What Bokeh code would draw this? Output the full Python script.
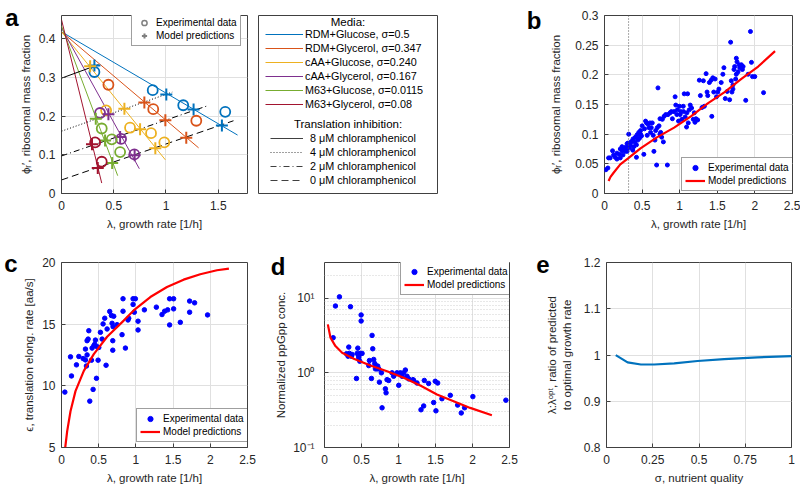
from bokeh.plotting import figure
from bokeh.models import (FixedTicker, CustomJSTickFormatter, Legend, LegendItem, Label, Span,
                          LinearAxis)
from bokeh.layouts import row, column
from bokeh.embed import file_html
from bokeh.resources import INLINE

NAN = float("nan")

# ---------------- Panel a data ----------------
media_labels = ["RDM+Glucose, σ=0.5", "RDM+Glycerol, σ=0.347", "cAA+Glucose, σ=0.240",
                "cAA+Glycerol, σ=0.167", "M63+Glucose, σ=0.0115", "M63+Glycerol, σ=0.08"]
media_line_x = [[0, 1.685], [0, 1.312], [0, 0.994], [0, 0.745], [0, 0.538], [0, 0.385]]
media_line_y = [[0.418, 0.151], [0.418, 0.118], [0.418, 0.087], [0.428, 0.064], [0.433, 0.046], [0.449, 0.027]]
exp_x = [[0.315, 0.873, 1.165, 1.567], [0.449, 0.878, 1.29], [0.427, 0.656, 0.857, 0.984],
         [0.369, 0.570, 0.697], [0.385, 0.481, 0.561], [0.322, 0.385]]
exp_y = [[0.314, 0.267, 0.228, 0.211], [0.281, 0.218, 0.188], [0.215, 0.170, 0.156, 0.132],
         [0.208, 0.141, 0.101], [0.168, 0.140, 0.107], [0.132, 0.082]]
mod_x = [[0.315, 1.003, 1.264, 1.535], [0.793, 0.994, 1.194], [0.274, 0.602, 0.752, 0.898],
         [0.449, 0.561, 0.700], [0.328, 0.417, 0.485], [0.292, 0.347]]
mod_y = [[0.331, 0.256, 0.217, 0.176], [0.235, 0.189, 0.144], [0.329, 0.219, 0.166, 0.117],
         [0.205, 0.146, 0.099], [0.193, 0.137, 0.079], [0.127, 0.066]]
inhib_labels = ["8 μM chloramphenicol", "4 μM chloramphenicol", "2 μM chloramphenicol", "0 μM chloramphenicol"]
inhib_line_x = [[0, 0.354], [0, 1.06], [0, 1.39], [0, 1.646]]
inhib_line_y = [[0.298, 0.333], [0.161, 0.262], [0.097, 0.226], [0.035, 0.188]]

# ---------------- Panel b data ----------------
b_x = [0.018, 0.045, 0.076, 0.107, 0.143, 0.165, 0.197, 0.210, 0.233, 0.246, 0.268, 0.282, 0.300, 0.313,
       0.322, 0.331, 0.344, 0.367, 0.380, 0.389, 0.403, 0.411, 0.425, 0.434, 0.443, 0.456, 0.465, 0.479,
       0.492, 0.425, 0.376, 0.210, 0.121, 0.054, 0.165, 0.277, 0.353, 0.300, 0.233,
       0.523, 0.559, 0.577, 0.590, 0.604, 0.613, 0.622, 0.635, 0.648, 0.657, 0.671, 0.680, 0.693, 0.711,
       0.725, 0.738, 0.747, 0.760, 0.769, 0.783, 0.792, 0.814, 0.836, 0.845, 0.872, 0.890, 0.903, 0.926,
       0.939, 0.948, 0.962, 0.970, 0.984, 0.997, 0.501, 0.532, 0.479, 0.568, 0.702, 0.738, 0.546,
       1.006, 1.015, 1.029, 1.047, 1.060, 1.073, 1.091, 1.105, 1.114, 1.127, 1.140, 1.158, 1.181, 1.203,
       1.216, 1.239, 1.261, 1.275, 1.297, 1.315, 1.328, 1.351, 1.364, 1.373, 1.395, 1.418, 1.427, 1.440,
       1.453, 1.471, 1.489, 1.507, 1.521, 1.552, 1.574, 1.588, 1.051, 1.096, 1.194,
       1.606, 1.632, 1.664, 1.677, 1.686, 1.708, 1.722, 1.731, 1.744, 1.753, 1.762, 1.776, 1.789, 1.798,
       1.811, 1.820, 1.834, 1.843, 1.878, 1.910, 1.941, 1.954, 1.968, 1.999, 2.115, 1.708, 1.753, 1.695]
b_y = [0.040, 0.043, 0.060, 0.072, 0.061, 0.058, 0.066, 0.060, 0.072, 0.065, 0.075, 0.078, 0.071, 0.085,
       0.100, 0.077, 0.081, 0.088, 0.092, 0.079, 0.087, 0.095, 0.082, 0.099, 0.090, 0.103, 0.093, 0.100,
       0.097, 0.061, 0.073, 0.075, 0.065, 0.060, 0.068, 0.071, 0.087, 0.084, 0.079,
       0.066, 0.119, 0.117, 0.111, 0.119, 0.103, 0.111, 0.119, 0.098, 0.071, 0.090, 0.106, 0.048, 0.178,
       0.114, 0.126, 0.103, 0.095, 0.125, 0.087, 0.130, 0.133, 0.048, 0.133, 0.136, 0.138, 0.126, 0.138,
       0.163, 0.149, 0.133, 0.141, 0.122, 0.147, 0.114, 0.109, 0.106, 0.098, 0.111, 0.100, 0.122,
       0.133, 0.138, 0.125, 0.147, 0.168, 0.129, 0.112, 0.168, 0.119, 0.141, 0.149, 0.144, 0.125, 0.120,
       0.126, 0.124, 0.191, 0.165, 0.145, 0.190, 0.147, 0.202, 0.171, 0.165, 0.187, 0.191, 0.130, 0.195,
       0.171, 0.193, 0.163, 0.171, 0.176, 0.187, 0.201, 0.212, 0.138, 0.136, 0.136,
       0.160, 0.172, 0.158, 0.255, 0.190, 0.176, 0.209, 0.214, 0.193, 0.228, 0.222, 0.205, 0.217, 0.212,
       0.214, 0.217, 0.209, 0.214, 0.157, 0.201, 0.273, 0.221, 0.197, 0.197, 0.170, 0.183, 0.201, 0.171]
b_model_x = [0.054, 0.08, 0.121, 0.21, 0.322, 0.479, 0.702, 0.926, 1.149, 1.373, 1.597, 1.82, 2.044, 2.268]
b_model_y = [0.021, 0.028, 0.035, 0.049, 0.060, 0.076, 0.095, 0.111, 0.130, 0.152, 0.171, 0.193, 0.214, 0.240]
b_threshold = 0.32

# ---------------- Panel c data ----------------
c_x = [0.045, 0.121, 0.134, 0.201, 0.233, 0.291, 0.322, 0.322, 0.335, 0.344, 0.344, 0.358, 0.367, 0.380,
       0.403, 0.411, 0.425, 0.434, 0.447, 0.456, 0.470, 0.479, 0.492, 0.501, 0.523, 0.546, 0.559, 0.581,
       0.599, 0.613, 0.648, 0.671, 0.680, 0.689, 0.689, 0.693, 0.702, 0.747, 0.814, 0.827, 0.827, 0.859,
       0.894, 0.903, 0.962, 0.962, 0.979, 0.993, 1.029, 1.029, 1.114, 1.275, 1.351, 1.386, 1.427, 1.453,
       1.453, 1.507, 1.507, 1.597, 1.722, 1.722, 1.789, 1.963]
c_y = [9.49, 12.35, 10.80, 11.70, 12.38, 12.21, 12.98, 12.10, 11.61, 12.51, 13.66, 13.79, 14.47, 8.76,
       12.08, 13.06, 9.71, 13.25, 13.38, 13.71, 10.61, 13.17, 12.08, 13.11, 14.34, 13.79, 15.02, 15.48,
       11.67, 14.61, 16.03, 15.70, 15.07, 13.66, 12.89, 14.80, 15.64, 14.96, 14.15, 17.06, 16.05, 13.06,
       15.34, 15.48, 17.06, 16.60, 15.97, 17.06, 14.53, 15.24, 16.16, 16.38, 15.78, 16.05, 16.16, 17.06,
       14.94, 17.06, 16.24, 15.15, 16.87, 15.97, 16.73, 15.75]
c_model_x = [0.05, 0.076, 0.121, 0.188, 0.300, 0.434, 0.613, 0.836, 0.970, 1.194, 1.418, 1.641, 1.865, 2.089, 2.25]
c_model_y = [5.0, 6.31, 7.94, 9.57, 11.21, 12.57, 13.98, 15.29, 16.11, 17.20, 18.01, 18.61, 19.05, 19.37, 19.51]

# ---------------- Panel d data ----------------
d_x = [0.117, 0.148, 0.202, 0.297, 0.319, 0.328, 0.337, 0.351, 0.364, 0.373, 0.432, 0.441, 0.450, 0.463,
       0.463, 0.477, 0.486, 0.495, 0.495, 0.508, 0.598, 0.607, 0.634, 0.643, 0.652, 0.665, 0.679, 0.688,
       0.701, 0.710, 0.719, 0.733, 0.742, 0.769, 0.778, 0.823, 0.832, 0.845, 0.868, 0.913, 0.935, 0.980,
       1.003, 1.025, 1.048, 1.070, 1.093, 1.115, 1.138, 1.196, 1.205, 1.250, 1.304, 1.340, 1.349, 1.407,
       1.475, 1.497, 1.506, 1.529, 1.587, 1.700, 1.799, 1.848, 1.893, 2.005, 2.451]
d_y = [2.95, 7.85, 10.4, 1.80, 1.67, 2.21, 1.82, 7.68, 1.67, 1.76, 0.84, 1.82, 2.14, 1.67,
       1.59, 1.43, 1.82, 5.95, 4.94, 1.82, 1.25, 1.46, 0.84, 3.17, 2.10, 1.51, 1.33, 1.13,
       1.23, 1.13, 1.23, 1.13, 0.75, 1.00, 0.34, 0.61, 0.54, 0.81, 0.79, 1.00, 0.90, 1.00,
       0.68, 1.00, 0.90, 1.00, 1.09, 0.90, 0.83, 0.81, 0.79, 0.73, 0.32, 0.36, 0.79, 0.72,
       0.40, 0.77, 0.31, 0.73, 0.45, 0.50, 0.37, 0.29, 0.34, 0.48, 0.43]
d_model_x = [0.045, 0.081, 0.148, 0.238, 0.396, 0.620, 0.845, 1.070, 1.295, 1.520, 1.745, 1.969, 2.262]
d_model_y = [4.45, 2.95, 2.28, 1.86, 1.54, 1.25, 1.05, 0.857, 0.676, 0.512, 0.417, 0.339, 0.27]

# ---------------- Panel e data ----------------
e_x = [0.05, 0.114, 0.186, 0.258, 0.366, 0.492, 0.636, 0.816, 1.0]
e_y = [0.9996, 0.984, 0.9795, 0.9795, 0.982, 0.987, 0.991, 0.995, 0.9975]

# ---------------- styles ----------------
FONT = "Liberation Sans"
TXT = "#262626"
AX = "#404040"
GRID = "#e0e0e0"
MCOL = ["#0072BD", "#D95319", "#EDB120", "#7E2F8E", "#77AC30", "#A2142F"]
DASHES = ["solid", "1 2", "6 3 1 3", "7 4"]
FMT = "return String(Math.round(tick*10000)/10000);"


def make_fig(w, h, xr, yr, left, right, top, bottom, **kw):
    return figure(width=w, height=h, x_range=xr, y_range=yr, output_backend="svg",
                  toolbar_location=None, min_border_left=left, min_border_right=right,
                  min_border_top=top, min_border_bottom=bottom, **kw)


def style(p, xticks, yticks, xlabel, ylabel, yfmt=None, yminor=None, ylab_standoff=4):
    p.outline_line_color = AX
    p.outline_line_width = 1
    p.background_fill_color = "white"
    p.border_fill_color = "white"
    for ax, ticks, minor in ((p.xaxis[0], xticks, []), (p.yaxis[0], yticks, yminor or [])):
        ax.ticker = FixedTicker(ticks=ticks, minor_ticks=minor)
        ax.formatter = CustomJSTickFormatter(code=FMT)
        ax.axis_line_color = None
        ax.major_tick_in = 4
        ax.major_tick_out = 0
        ax.major_tick_line_color = AX
        ax.minor_tick_line_color = None
        ax.major_label_text_font = FONT
        ax.major_label_text_font_size = "12px"
        ax.major_label_text_color = TXT
        ax.axis_label_text_font = FONT
        ax.axis_label_text_font_size = "11.5px"
        ax.axis_label_text_font_style = "normal"
        ax.axis_label_text_color = TXT
    if yfmt is not None:
        p.yaxis[0].formatter = yfmt
    p.xaxis[0].axis_label = xlabel
    p.yaxis[0].axis_label = ylabel
    p.xaxis[0].major_label_standoff = 7
    p.xaxis[0].axis_label_standoff = 5
    p.yaxis[0].major_label_standoff = 6
    p.yaxis[0].axis_label_standoff = ylab_standoff
    p.xgrid.grid_line_color = GRID
    p.ygrid.grid_line_color = GRID


def letter(p, text, yval, standoff):
    # panel letter drawn as the single tick label of an extra, otherwise invisible left axis
    ax = LinearAxis(ticker=FixedTicker(ticks=[yval], minor_ticks=[]),
                    formatter=CustomJSTickFormatter(code="return '%s';" % text),
                    axis_line_color=None, major_tick_line_color=None, minor_tick_line_color=None,
                    major_tick_in=0, major_tick_out=0, major_label_standoff=standoff,
                    major_label_text_font=FONT, major_label_text_font_size="24px",
                    major_label_text_font_style="bold", major_label_text_color="black")
    p.add_layout(ax, "left")


def small_legend(p, items, loc, gw=20):
    leg = Legend(items=items, location=loc, padding=3, spacing=0, glyph_width=gw, glyph_height=13,
                 label_height=13, label_width=10, label_standoff=3, margin=0,
                 label_text_font=FONT, label_text_font_size="10px", label_text_color="black",
                 border_line_color=AX, border_line_width=1, background_fill_color="white",
                 background_fill_alpha=1)
    p.add_layout(leg)


GLABEL = "λ, growth rate [1/h]"
H1, H2 = 242, 247

# ---------------- Panel a ----------------
pa = make_fig(257, H1, (0, 1.78), (0, 0.46), 61, 10, 14, 43)
style(pa, [0, 0.5, 1, 1.5], [0, 0.1, 0.2, 0.3, 0.4], GLABEL, "ϕᵣ′, ribosomal mass fraction")
for i in range(6):
    pa.line(media_line_x[i], media_line_y[i], line_color=MCOL[i], line_width=1)
for i in range(4):
    pa.line(inhib_line_x[i], inhib_line_y[i], line_color="black", line_width=1, line_dash=DASHES[i])
for i in range(6):
    pa.scatter(exp_x[i], exp_y[i], marker="circle", size=10, fill_color=None,
               line_color=MCOL[i], line_width=1.8)
    pa.scatter(mod_x[i], mod_y[i], marker="cross", size=12, line_color=MCOL[i], line_width=2)
ga = pa.scatter([NAN], [NAN], marker="circle", size=9, fill_color=None, line_color="#808080", line_width=1.5)
gb = pa.scatter([NAN], [NAN], marker="cross", size=12, line_color="#808080", line_width=2)
small_legend(pa, [LegendItem(label="Experimental data", renderers=[ga]),
                  LegendItem(label="Model predictions", renderers=[gb])], (70, 147), gw=18)
letter(pa, "a", 0.455, -2)

# ---------------- media legend panel ----------------
lg = figure(width=183, height=H1, x_range=(0, 1), y_range=(0, 1), x_axis_location=None,
            y_axis_location=None, output_backend="svg", toolbar_location=None,
            min_border_left=1, min_border_right=3, min_border_top=15, min_border_bottom=49)
lg.grid.visible = False
lg.outline_line_color = AX
lg.outline_line_width = 1
m_items = []
for i in range(6):
    r = lg.line([NAN], [NAN], line_color=MCOL[i], line_width=1)
    m_items.append(LegendItem(label=media_labels[i], renderers=[r]))
i_items = []
for i in range(4):
    r = lg.line([NAN], [NAN], line_color="#404040", line_width=1, line_dash=DASHES[i])
    i_items.append(LegendItem(label=inhib_labels[i], renderers=[r]))
common = dict(padding=0, spacing=0, glyph_height=14, label_height=14, label_width=10, margin=0,
              label_text_font=FONT, label_text_font_size="10.8px", label_text_color="black",
              border_line_color=None, background_fill_alpha=0)
lg.add_layout(Legend(items=m_items, location=(7, 82), glyph_width=38, label_standoff=2, **common))
lg.add_layout(Legend(items=i_items, location=(12, 6), glyph_width=33, label_standoff=7, **common))
lg.add_layout(Label(x=0.5, y=0.961, text="Media:", text_align="center", text_baseline="middle",
                    text_font=FONT, text_font_size="11.5px", text_color="black"))
lg.add_layout(Label(x=0.5, y=0.393, text="Translation inhibition:", text_align="center",
                    text_baseline="middle", text_font=FONT, text_font_size="11.5px", text_color="black"))

# ---------------- Panel b ----------------
pb = make_fig(360, H1, (0, 2.5), (0, 0.3), 164, 8, 15, 42)
style(pb, [0, 0.5, 1, 1.5, 2, 2.5], [0, 0.05, 0.1, 0.15, 0.2, 0.25, 0.3], GLABEL,
      "ϕᵣ′, ribosomal mass fraction", ylab_standoff=10)
pb.add_layout(Span(location=b_threshold, dimension="height", line_color="#555555",
                   line_dash="1 2", line_width=1))
rb1 = pb.scatter(b_x, b_y, marker="circle", size=4, color="#0000FF")
rb2 = pb.line(b_model_x, b_model_y, line_color="#FF0000", line_width=2.2)
small_legend(pb, [LegendItem(label="Experimental data", renderers=[rb1]),
                  LegendItem(label="Model predictions", renderers=[rb2])], (77, 2))
letter(pb, "b", 0.292, 6)

# ---------------- Panel c ----------------
pc = make_fig(258, H2, (0, 2.5), (5, 20), 61, 11, 20, 42)
style(pc, [0, 0.5, 1, 1.5, 2, 2.5], [5, 10, 15, 20], GLABEL, "ϵ, translation elong. rate [aa/s]")
rc1 = pc.scatter(c_x, c_y, marker="circle", size=4.5, color="#0000FF")
rc2 = pc.line(c_model_x, c_model_y, line_color="#FF0000", line_width=2.2)
small_legend(pc, [LegendItem(label="Experimental data", renderers=[rc1]),
                  LegendItem(label="Model predictions", renderers=[rc2])], (75, 5))
letter(pc, "c", 19.9, 3)

# ---------------- Panel d ----------------
pd_ = make_fig(267, H2, (0, 2.5), (0.1, 30), 66, 16, 20, 42, y_axis_type="log")
log_fmt = CustomJSTickFormatter(code="""
const sup = {"-": "\u207b", "0": "\u2070", "1": "\u00b9", "2": "\u00b2", "3": "\u00b3"};
const e = Math.round(Math.log10(tick));
return "10" + String(e).split("").map(c => sup[c]).join("");
""")
d_minor = [0.2, 0.3, 0.4, 0.5, 0.6, 0.7, 0.8, 0.9, 2, 3, 4, 5, 6, 7, 8, 9, 20, 30]
style(pd_, [0, 0.5, 1, 1.5, 2, 2.5], [0.1, 1, 10], GLABEL, "Normalized ppGpp conc.",
      yfmt=log_fmt, yminor=d_minor, ylab_standoff=3)
pd_.ygrid.minor_grid_line_color = "#d0d0d0"
pd_.ygrid.minor_grid_line_dash = "1 2"
rd1 = pd_.scatter(d_x, d_y, marker="circle", size=4.5, color="#0000FF")
rd2 = pd_.line(d_model_x, d_model_y, line_color="#FF0000", line_width=2.2)
small_legend(pd_, [LegendItem(label="Experimental data", renderers=[rd1]),
                   LegendItem(label="Model predictions", renderers=[rd2])], (76, 152))
letter(pd_, "d", 26.5, -13)

# ---------------- Panel e ----------------
pe = make_fig(275, H2, (0, 1), (0.8, 1.2), 81, 9, 20, 42)
style(pe, [0, 0.25, 0.5, 0.75, 1], [0.8, 0.9, 1, 1.1, 1.2], "σ, nutrient quality",
      "λ:λᵒᵖᵗ, ratio of predicted\nto optimal growth rate", ylab_standoff=8)
pe.line(e_x, e_y, line_color="#0072BD", line_width=2.2)
letter(pe, "e", 1.195, -6)

root = column(row(pa, lg, pb), row(pc, pd_, pe))
open("out.html", "w").write(file_html(root, INLINE))
